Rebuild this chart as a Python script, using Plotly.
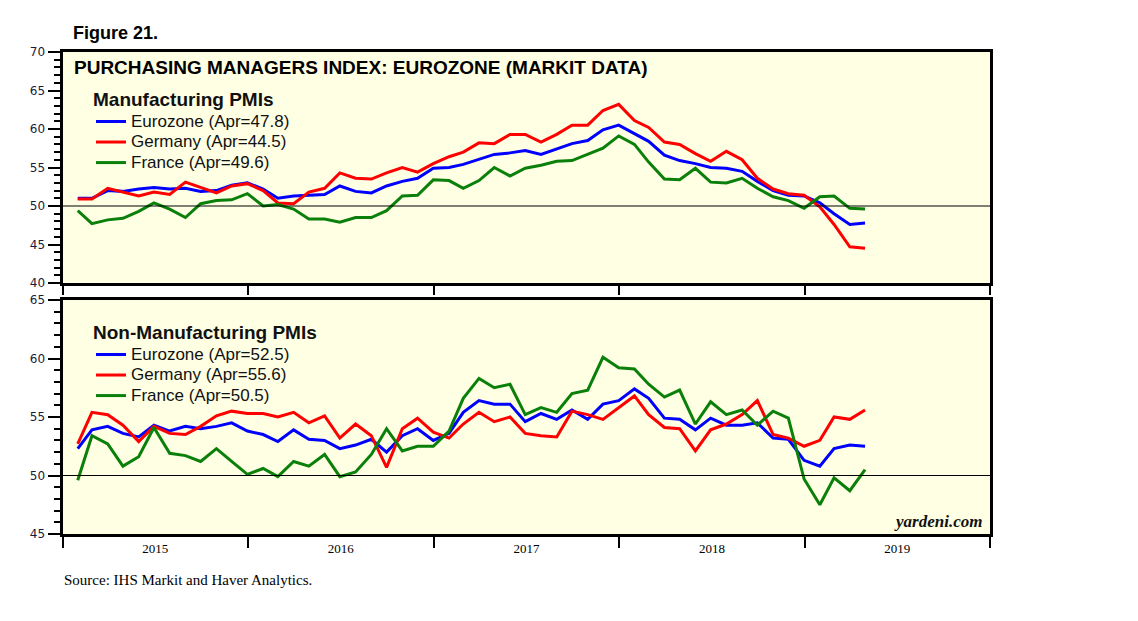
import pandas as pd
import plotly.graph_objects as go

# ---------------- data (monthly, Jan 2015 - Apr 2019) ----------------
dates = pd.date_range("2015-01-31", periods=52, freq="ME")

mfg_eurozone = [51.0, 51.0, 52.0, 51.9, 52.2, 52.4, 52.2, 52.3, 51.9, 52.0, 52.7, 53.0,
                52.2, 51.0, 51.3, 51.4, 51.5, 52.6, 51.9, 51.7, 52.6, 53.2, 53.6, 54.9,
                55.0, 55.4, 56.1, 56.7, 56.9, 57.2, 56.7, 57.4, 58.1, 58.5, 59.9, 60.5,
                59.4, 58.4, 56.6, 55.9, 55.5, 55.0, 54.9, 54.5, 53.2, 52.0, 51.4, 51.3,
                50.4, 49.0, 47.6, 47.8]
mfg_germany = [50.9, 50.9, 52.3, 51.8, 51.3, 51.8, 51.5, 53.1, 52.4, 51.7, 52.6, 52.9,
               52.0, 50.4, 50.3, 51.8, 52.3, 54.3, 53.6, 53.5, 54.3, 55.0, 54.4, 55.5,
               56.4, 57.0, 58.2, 58.1, 59.3, 59.3, 58.3, 59.3, 60.5, 60.5, 62.4, 63.2,
               61.1, 60.2, 58.3, 58.0, 56.8, 55.8, 57.1, 56.0, 53.6, 52.2, 51.6, 51.4,
               49.9, 47.6, 44.7, 44.5]
mfg_france = [49.4, 47.7, 48.2, 48.4, 49.3, 50.4, 49.6, 48.5, 50.3, 50.7, 50.8, 51.6,
              50.0, 50.2, 49.6, 48.3, 48.3, 47.9, 48.5, 48.5, 49.4, 51.3, 51.4, 53.4,
              53.3, 52.3, 53.3, 55.0, 53.9, 54.9, 55.3, 55.8, 55.9, 56.7, 57.5, 59.1,
              58.0, 55.7, 53.5, 53.4, 54.9, 53.1, 53.0, 53.6, 52.3, 51.2, 50.7, 49.7,
              51.2, 51.3, 49.7, 49.6]

nonmfg_eurozone = [52.3, 53.9, 54.2, 53.6, 53.3, 54.3, 53.8, 54.2, 54.0, 54.2, 54.5, 53.8,
                   53.5, 52.9, 53.9, 53.1, 53.0, 52.3, 52.6, 53.1, 52.0, 53.4, 54.0, 53.0,
                   53.6, 55.4, 56.4, 56.1, 56.1, 54.6, 55.3, 54.8, 55.6, 54.8, 56.1, 56.4,
                   57.4, 56.6, 54.9, 54.8, 53.9, 54.9, 54.3, 54.3, 54.5, 53.2, 53.1, 51.3,
                   50.8, 52.3, 52.6, 52.5]
nonmfg_germany = [52.7, 55.4, 55.2, 54.3, 52.9, 54.2, 53.6, 53.5, 54.2, 55.1, 55.5, 55.3,
                  55.3, 55.0, 55.4, 54.5, 55.1, 53.2, 54.4, 53.4, 50.7, 54.0, 54.9, 53.7,
                  53.2, 54.4, 55.4, 54.6, 55.0, 53.6, 53.4, 53.3, 55.5, 55.2, 54.8, 55.8,
                  56.8, 55.2, 54.1, 54.0, 52.1, 53.9, 54.4, 55.2, 56.4, 53.5, 53.2, 52.5,
                  53.0, 55.0, 54.8, 55.6]
nonmfg_france = [49.6, 53.4, 52.7, 50.8, 51.6, 54.1, 51.9, 51.7, 51.2, 52.3, 51.2, 50.1,
                 50.6, 49.9, 51.2, 50.8, 51.8, 49.9, 50.3, 51.8, 54.0, 52.1, 52.5, 52.5,
                 53.8, 56.6, 58.3, 57.5, 57.8, 55.2, 55.8, 55.4, 57.0, 57.3, 60.1, 59.2,
                 59.1, 57.8, 56.7, 57.3, 54.4, 56.3, 55.2, 55.6, 54.3, 55.5, 54.9, 49.7,
                 47.5, 49.8, 48.7, 50.5]

mfg_names = ["Eurozone (Apr=47.8)", "Germany (Apr=44.5)", "France (Apr=49.6)"]
nonmfg_names = ["Eurozone (Apr=52.5)", "Germany (Apr=55.6)", "France (Apr=50.5)"]
colors = ["#0000FF", "#FF0000", "#0A800A"]

W, H = 1138, 621
def px_x(p): return p / W
def px_y(p): return 1 - p / H

XL, XR = 62.5, 990
TOP_T, TOP_B = 52, 283
BOT_T, BOT_B = 300, 534
BG = "#FFFFE4"
TICKFONT = dict(family="DejaVu Sans", size=12, color="#1a1a3a")

def big(t, size=17):
    return '<span style="font-size:%dpx">%s</span>' % (size, t)

fig = go.Figure()
for vals, name, c in zip([mfg_eurozone, mfg_germany, mfg_france], mfg_names, colors):
    fig.add_trace(go.Scatter(x=dates, y=vals, name=big(name), mode="lines",
                             line=dict(color=c, width=3), xaxis="x", yaxis="y",
                             legend="legend"))
for vals, name, c in zip([nonmfg_eurozone, nonmfg_germany, nonmfg_france], nonmfg_names, colors):
    fig.add_trace(go.Scatter(x=dates, y=vals, name=big(name), mode="lines",
                             line=dict(color=c, width=3), xaxis="x2", yaxis="y2",
                             legend="legend2"))

xrange_ = ["2015-01-01", "2020-01-01"]
common_x = dict(range=xrange_, tick0="2015-01-01", dtick="M12", ticks="outside",
                tickwidth=2, tickcolor="black", showline=True, linewidth=3,
                linecolor="black", mirror=True, showgrid=False, zeroline=False)

def yax(rng, domain, side="left", overlay=None, anchor="x"):
    major = 12 if side == "left" else 10
    minor_len = 6 if side == "left" else 5
    d = dict(range=rng, domain=domain, dtick=5, ticks="outside", ticklen=major,
             tickwidth=1.5, tickcolor="black", tickfont=TICKFONT,
             minor=dict(dtick=1, ticks="outside", ticklen=minor_len, tickwidth=1.5,
                        tickcolor="black"),
             showgrid=False, zeroline=False, side=side, anchor=anchor, fixedrange=True)
    if overlay:
        d["overlaying"] = overlay
        d["showline"] = False
    else:
        d.update(showline=True, linewidth=3, linecolor="black", mirror=True)
    return d

top_dom = [px_y(TOP_B), px_y(TOP_T)]
bot_dom = [px_y(BOT_B), px_y(BOT_T)]

legend_common = dict(xanchor="left", yanchor="top", bgcolor="rgba(0,0,0,0)",
                     tracegroupgap=0,
                     font=dict(family="Liberation Sans", size=13.5, color="#111111"))

fig.update_layout(
    width=W, height=H,
    margin=dict(l=0, r=0, t=0, b=0, pad=0, autoexpand=False),
    paper_bgcolor="white", plot_bgcolor=BG,
    xaxis=dict(domain=[px_x(XL), px_x(XR)], anchor="y", ticklen=9,
               showticklabels=False, **common_x),
    xaxis2=dict(domain=[px_x(XL), px_x(XR)], anchor="y2", ticklen=11,
                showticklabels=True, ticklabelmode="period", tickformat="%Y",
                ticklabelstandoff=-11,
                tickfont=dict(family="Liberation Serif", size=13, color="black"),
                **common_x),
    yaxis=yax([40, 70], top_dom, anchor="x"),
    yaxis3=yax([40, 70], top_dom, side="right", overlay="y", anchor="x"),
    yaxis2=yax([45, 65], bot_dom, anchor="x2"),
    yaxis4=yax([45, 65], bot_dom, side="right", overlay="y2", anchor="x2"),
    legend=dict(x=px_x(91), y=px_y(88),
                title=dict(text="<b>" + big("Manufacturing PMIs", 19) + "</b>", side="top",
                           font=dict(family="Liberation Sans", size=14, color="#111111")),
                **legend_common),
    legend2=dict(x=px_x(91), y=px_y(321),
                 title=dict(text="<b>" + big("Non-Manufacturing PMIs", 19) + "</b>", side="top",
                            font=dict(family="Liberation Sans", size=14, color="#111111")),
                 **legend_common),
    showlegend=True,
)

# 50 reference lines
fig.add_shape(type="line", xref="x domain", yref="y", x0=0, x1=1, y0=50, y1=50,
              line=dict(color="black", width=1))
fig.add_shape(type="line", xref="x2 domain", yref="y2", x0=0, x1=1, y0=50, y1=50,
              line=dict(color="black", width=1))

fig.add_annotation(text="<b>Figure 21.</b>", xref="paper", yref="paper",
                   x=px_x(71), y=px_y(33), xanchor="left", yanchor="middle", showarrow=False,
                   font=dict(family="Liberation Sans", size=18, color="black"))
fig.add_annotation(text="<b>PURCHASING MANAGERS INDEX: EUROZONE (MARKIT DATA)</b>",
                   xref="paper", yref="paper", x=px_x(72), y=px_y(67),
                   xanchor="left", yanchor="middle", showarrow=False,
                   font=dict(family="Liberation Sans", size=19, color="black"))
fig.add_annotation(text="<b><i>yardeni.com</i></b>", xref="paper", yref="paper",
                   x=px_x(984), y=px_y(521), xanchor="right", yanchor="middle",
                   showarrow=False,
                   font=dict(family="Liberation Serif", size=17, color="#111111"))
fig.add_annotation(text="Source: IHS Markit and Haver Analytics.", xref="paper", yref="paper",
                   x=px_x(62), y=px_y(580), xanchor="left", yanchor="middle",
                   showarrow=False,
                   font=dict(family="Liberation Serif", size=15, color="black"))

fig.write_html("out.html", config={"displayModeBar": False},
               post_script="document.body.style.margin='0';document.body.style.overflow='hidden';")
